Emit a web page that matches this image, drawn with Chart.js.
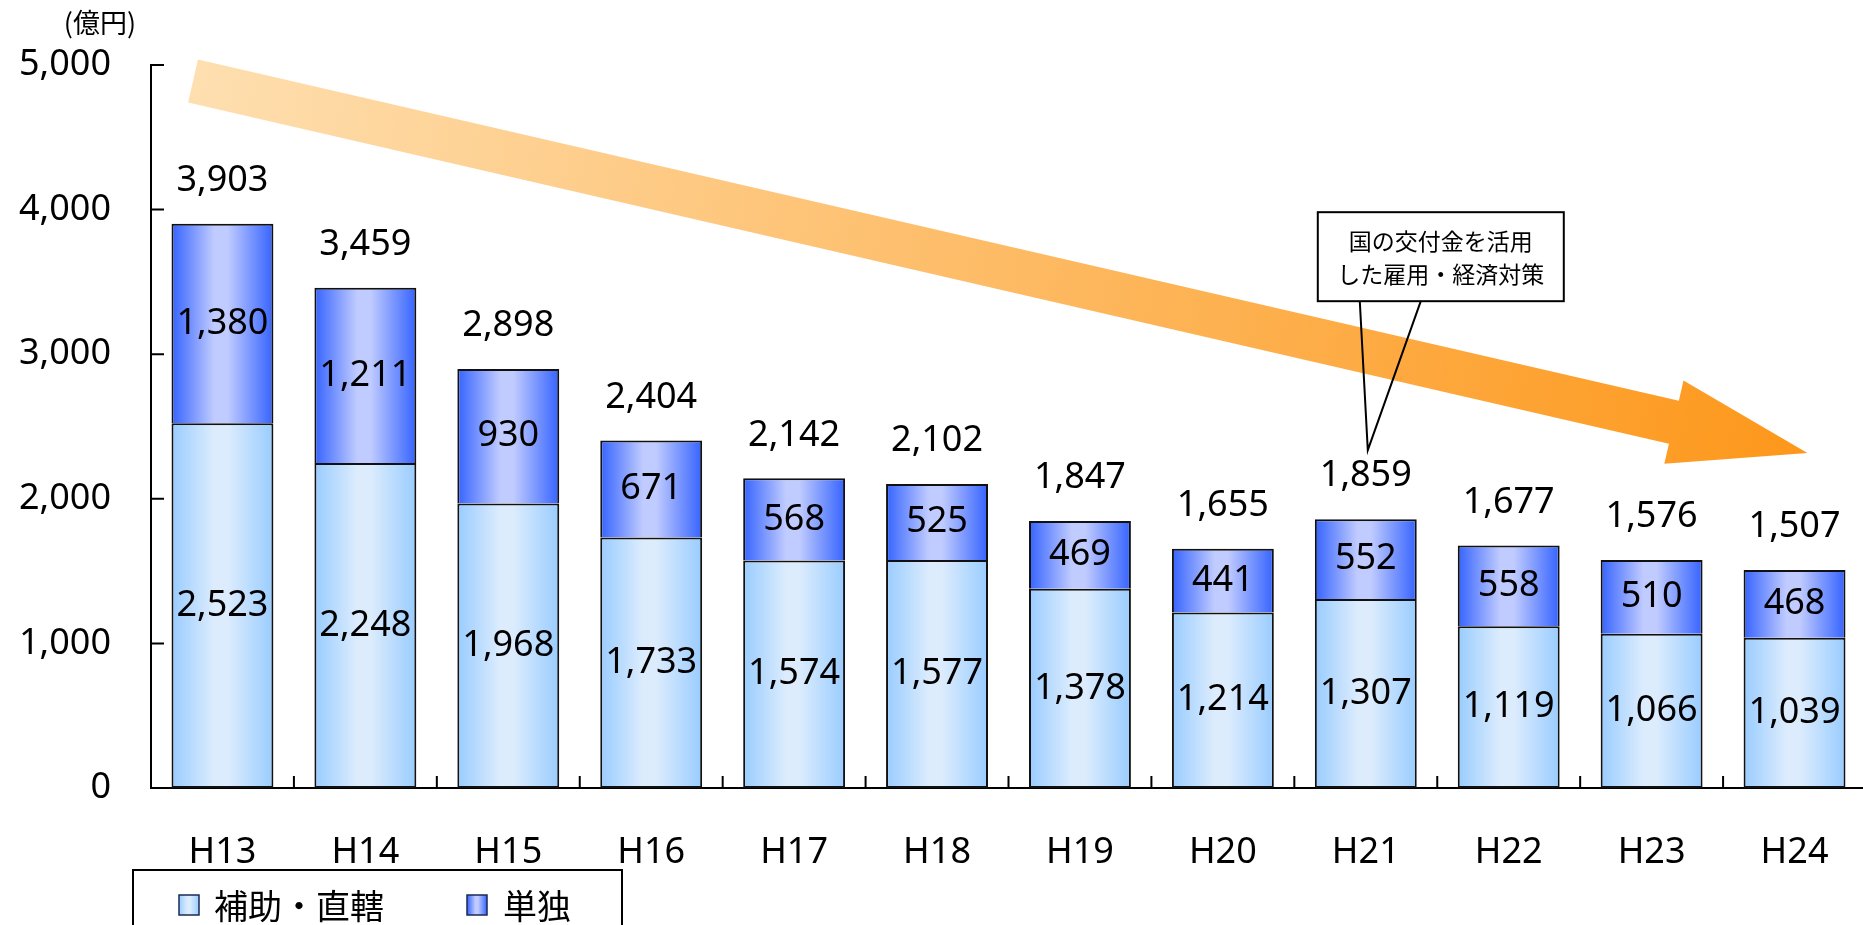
<!DOCTYPE html>
<html>
<head>
<meta charset="utf-8">
<script src="https://cdn.jsdelivr.net/npm/chart.js@4"></script>
<style>
html, body { margin: 0; padding: 0; background: #fff; width: 1863px; height: 925px; overflow: hidden; }
canvas { display: block; }
</style>
</head>
<body>
<canvas id="chart" width="1870" height="925"></canvas>
<script>
// 年度
const labels = ['H13', 'H14', 'H15', 'H16', 'H17', 'H18', 'H19', 'H20', 'H21', 'H22', 'H23', 'H24'];
// 補助・直轄（億円）
const hojoChokkatsu = [2523, 2248, 1968, 1733, 1574, 1577, 1378, 1214, 1307, 1119, 1066, 1039];
// 単独（億円）
const tandoku = [1380, 1211, 930, 671, 568, 525, 469, 441, 552, 558, 510, 468];
const seriesNames = ['補助・直轄', '単独'];
const unitText = '(億円)';
const calloutText = ['国の交付金を活用', 'した雇用・経済対策'];
const calloutIndex = 8; // H21

const NUM_FONT = '"Noto Sans", "Noto Sans CJK JP", sans-serif';
const JP_FONT = '"Noto Sans CJK JP", "Noto Sans", sans-serif';
const BAR_PCT = 0.713;

const totals = hojoChokkatsu.map((v, i) => v + tandoku[i]);
const fmt = v => v.toLocaleString('en-US');

const stops = {
  light: ['#99ccff', '#dcecfd', '#dcecfd', '#99ccff'],
  dark: ['#3563ff', '#c0cbff', '#c0cbff', '#3563ff']
};

function makeGrad(ctx, x0, x1, cols) {
  const g = ctx.createLinearGradient(x0, 0, x1, 0);
  g.addColorStop(0, cols[0]);
  g.addColorStop(0.42, cols[1]);
  g.addColorStop(0.55, cols[2]);
  g.addColorStop(1, cols[3]);
  return g;
}

function barFill(kind) {
  return c => {
    const chart = c.chart;
    if (!chart.chartArea || c.dataIndex === undefined) return stops[kind][0];
    const xs = chart.scales.x;
    const cx = xs.getPixelForValue(c.dataIndex);
    const w = xs.width / labels.length * BAR_PCT;
    return makeGrad(chart.ctx, cx - w / 2, cx + w / 2, stops[kind]);
  };
}

// 右下がりの矢印（背景）
const arrowPlugin = {
  id: 'arrow',
  beforeDatasetsDraw(chart) {
    const { ctx, scales: { x, y } } = chart;
    const sx = x.getPixelForValue(-0.206), sy = y.getPixelForValue(4889);
    const tx = x.getPixelForValue(11.09), ty = y.getPixelForValue(2317);
    const dx = tx - sx, dy = ty - sy, len = Math.hypot(dx, dy);
    const ux = dx / len, uy = dy / len, px = -uy, py = ux;
    const shaft = 22, head = 42.7, headLen = 137;
    const bx = tx - ux * headLen, by = ty - uy * headLen;
    const g = ctx.createLinearGradient(sx, sy, tx, ty);
    g.addColorStop(0, '#fedfb0');
    g.addColorStop(1, '#fd971a');
    ctx.save();
    ctx.fillStyle = g;
    ctx.beginPath();
    ctx.moveTo(sx - px * shaft, sy - py * shaft);
    ctx.lineTo(bx - px * shaft, by - py * shaft);
    ctx.lineTo(bx - px * head, by - py * head);
    ctx.lineTo(tx, ty);
    ctx.lineTo(bx + px * head, by + py * head);
    ctx.lineTo(bx + px * shaft, by + py * shaft);
    ctx.lineTo(sx + px * shaft, sy + py * shaft);
    ctx.closePath();
    ctx.fill();
    ctx.restore();
  }
};

const labelPlugin = {
  id: 'labels',
  afterDatasetsDraw(chart) {
    const { ctx } = chart;
    ctx.save();
    ctx.fillStyle = '#000';
    ctx.textAlign = 'center';
    ctx.textBaseline = 'middle';
    ctx.font = '36px ' + NUM_FONT;
    chart.data.datasets.forEach((ds, di) => {
      chart.getDatasetMeta(di).data.forEach((el, i) => {
        ctx.fillText(fmt(ds.data[i]), el.x, (el.y + el.base) / 2);
      });
    });
    chart.getDatasetMeta(1).data.forEach((el, i) => {
      ctx.fillText(fmt(totals[i]), el.x, el.y - 43);
    });
    ctx.restore();
  },
  afterDraw(chart) {
    const { ctx, chartArea: a, scales: { x, y } } = chart;
    ctx.save();
    // 内向きの目盛り
    ctx.strokeStyle = '#000';
    ctx.lineWidth = 2;
    ctx.beginPath();
    y.ticks.forEach(t => {
      const py = y.getPixelForValue(t.value);
      ctx.moveTo(a.left, py);
      ctx.lineTo(a.left + 13, py);
    });
    const cw = x.width / labels.length;
    for (let i = 1; i <= labels.length; i++) {
      const px = a.left + cw * i;
      ctx.moveTo(px, a.bottom);
      ctx.lineTo(px, a.bottom - 12);
    }
    ctx.stroke();

    // 単位
    ctx.fillStyle = '#000';
    ctx.font = '27px ' + JP_FONT;
    ctx.textAlign = 'center';
    ctx.textBaseline = 'middle';
    ctx.fillText(unitText, 100, 23);

    // 吹き出し
    const tipX = x.getPixelForValue(calloutIndex) + 2;
    const tipY = y.getPixelForValue(totals[calloutIndex]) - 69;
    const bl = tipX - 50, br = tipX + 196, bt = tipY - 238, bb = tipY - 149;
    ctx.lineWidth = 2;
    ctx.fillStyle = '#fff';
    ctx.fillRect(bl, bt, br - bl, bb - bt);
    ctx.strokeRect(bl, bt, br - bl, bb - bt);
    ctx.beginPath();
    ctx.moveTo(tipX - 8, bb);
    ctx.lineTo(tipX, tipY);
    ctx.lineTo(tipX + 53, bb);
    ctx.stroke();
    ctx.fillStyle = '#000';
    ctx.font = '23px ' + JP_FONT;
    ctx.fillText(calloutText[0], (bl + br) / 2, bt + 29);
    ctx.fillText(calloutText[1], (bl + br) / 2, bt + 62);

    // 凡例
    ctx.lineWidth = 2;
    ctx.strokeRect(133, 870, 489, 80);
    const items = [
      { x: 179, tx: 214, kind: 'light' },
      { x: 467, tx: 503, kind: 'dark' }
    ];
    ctx.textAlign = 'left';
    ctx.font = '34px ' + JP_FONT;
    items.forEach((it, i) => {
      ctx.fillStyle = makeGrad(ctx, it.x, it.x + 20, stops[it.kind]);
      ctx.fillRect(it.x, 895, 20, 20);
      ctx.lineWidth = 1.5;
      ctx.strokeStyle = '#1a2a55';
      ctx.strokeRect(it.x, 895, 20, 20);
      ctx.fillStyle = '#000';
      ctx.fillText(seriesNames[i], it.tx, 906);
    });
    ctx.restore();
  }
};

new Chart(document.getElementById('chart'), {
  type: 'bar',
  data: {
    labels,
    datasets: [
      { label: seriesNames[0], data: hojoChokkatsu, backgroundColor: barFill('light'),
        borderColor: '#111', borderWidth: 2, borderSkipped: false,
        categoryPercentage: 1, barPercentage: BAR_PCT },
      { label: seriesNames[1], data: tandoku, backgroundColor: barFill('dark'),
        borderColor: '#111', borderWidth: 2, borderSkipped: 'bottom',
        categoryPercentage: 1, barPercentage: BAR_PCT }
    ]
  },
  options: {
    responsive: false,
    animation: false,
    layout: { padding: { top: 65, right: 4, left: 0, bottom: 0 } },
    plugins: { legend: { display: false }, tooltip: { enabled: false } },
    scales: {
      x: {
        stacked: true,
        grid: { display: false },
        border: { display: true, color: '#000', width: 2 },
        ticks: { color: '#000', font: { size: 36, family: NUM_FONT }, padding: 35, maxRotation: 0, autoSkip: false },
        afterFit(s) { s.height = 137; }
      },
      y: {
        stacked: true,
        min: 0, max: 5000,
        grid: { display: false },
        border: { display: true, color: '#000', width: 2 },
        ticks: { stepSize: 1000, color: '#000', font: { size: 36, family: NUM_FONT }, padding: 32,
          callback: v => fmt(v) },
        afterFit(s) { s.width = 151; }
      }
    }
  },
  plugins: [arrowPlugin, labelPlugin]
});
</script>
</body>
</html>
